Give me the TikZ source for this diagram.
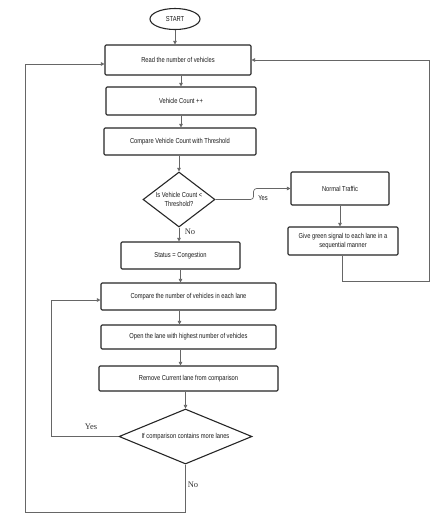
\documentclass[tikz,border=0pt]{standalone}
\usepackage{fontspec}
\setmainfont[FakeStretch=0.8]{Liberation Sans}
\newfontfamily\lblserif{Liberation Serif}
\usetikzlibrary{shapes.geometric,arrows.meta}
\tikzset{
  boxfont/.style={font=\fontsize{7.2}{8.6}\selectfont, text=black!90},
  procbox/.style={boxfont, draw=black!85, line width=1.1pt, rounded corners=1.2pt, fill=white,
    inner sep=1pt, align=center},
  decbox/.style={draw=black!85, line width=1.1pt, shape=diamond, inner sep=0pt},
  dectext/.style={boxfont, align=center, inner sep=0pt},
  termbox/.style={boxfont, draw=black!85, line width=1.1pt, ellipse, inner sep=0pt},
  conn/.style={draw=black!60, line width=0.7pt},
  arr/.style={conn, -{Triangle[length=3.5pt,width=3.5pt]}},
  serlbl/.style={font=\lblserif\fontsize{8.5}{10}\selectfont, text=black!80},
  sanlbl/.style={boxfont}
}
\begin{document}
\begin{tikzpicture}[x=1pt,y=-1pt]
\useasboundingbox (0,0) rectangle (444,520);
% nodes
\node[termbox, minimum width=50pt, minimum height=21pt] (start) at (175,19) {START};
\node[procbox, minimum width=146pt, minimum height=30pt] (read) at (178,60) {Read the number of vehicles};
\node[procbox, minimum width=150pt, minimum height=28pt] (vc) at (181,101) {Vehicle Count ++};
\node[procbox, minimum width=152pt, minimum height=27pt] (cmp) at (180,141.5) {Compare Vehicle Count with Threshold};
\node[decbox, minimum width=72pt, minimum height=55pt] (d1) at (179,199.5) {};
\node[dectext] (d1t) at (d1.center) {Is Vehicle Count <\\Threshold?};
\node[procbox, minimum width=98pt, minimum height=33pt] (nt) at (340,188.5) {Normal Traffic};
\node[procbox, minimum width=110pt, minimum height=28pt] (green) at (343,241) {Give green signal to each lane in a\\sequential manner};
\node[procbox, minimum width=119pt, minimum height=27pt] (status) at (180.5,255.5) {Status = Congestion};
\node[procbox, minimum width=175pt, minimum height=27pt] (cl) at (188.5,296.5) {Compare the number of vehicles in each lane};
\node[procbox, minimum width=175pt, minimum height=24pt] (open) at (188.5,337) {Open the lane with highest number of vehicles};
\node[procbox, minimum width=179pt, minimum height=25pt] (rem) at (188.5,378.5) {Remove Current lane from comparison};
\node[decbox, minimum width=133pt, minimum height=55pt] (d2) at (185.5,436.5) {};
\node[dectext] (d2t) at (d2.center) {If comparison contains more lanes};
% labels
\node[sanlbl] (yes1) at (263,198) {Yes};
\node[serlbl] (no1) at (190,232) {No};
\node[serlbl] (yes2) at (91,427) {Yes};
\node[serlbl] (no2) at (193,485) {No};
% connectors
\draw[arr] (start.south) -- (start.south |- read.north);
\draw[arr] (vc.north |- read.south) -- (vc.north);
\draw[arr] (vc.south) -- (vc.south |- cmp.north);
\draw[arr] (d1.north |- cmp.south) -- (d1.north);
\draw[arr, rounded corners=3pt] (d1.east) -- ++(38,0) |- (nt.west);
\draw[arr] (nt.south) -- (nt.south |- green.north);
\draw[arr] ([xshift=-1pt]green.south) -- ++(0,26) -- ++(87,0) |- (read.east);
\draw[arr] (d1.south) -- (d1.south |- status.north);
\draw[arr] (status.south) -- (status.south |- cl.north);
\draw[arr] ([xshift=-9pt]cl.south) -- ([xshift=-9pt]open.north);
\draw[arr] ([xshift=-8pt]open.south) -- ([xshift=-8pt]rem.north);
\draw[arr] (d2.north |- rem.south) -- (d2.north);
\draw[arr] (d2.west) -- ++(-67,0) |- ([yshift=-3.5pt]cl.west);
\draw[arr] (d2.south) -- ++(0,48) -- ++(-160.5,0) |- ([yshift=-4pt]read.west);
\end{tikzpicture}
\end{document}
